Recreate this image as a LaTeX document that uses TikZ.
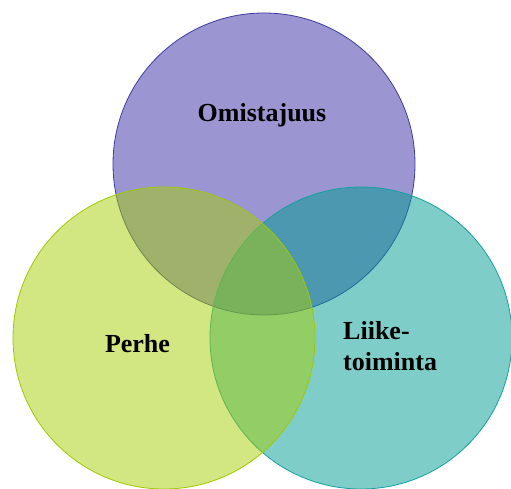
\documentclass[tikz,border=0pt]{standalone}
\usepackage{fontspec}
\setmainfont{Liberation Serif}
\usepackage{tikz}
\usetikzlibrary{positioning}

\definecolor{ownfill}{RGB}{55,45,165}
\definecolor{ownline}{RGB}{60,60,160}
\definecolor{famfill}{RGB}{165,205,5}
\definecolor{famline}{RGB}{160,200,0}
\definecolor{busfill}{RGB}{0,155,145}
\definecolor{busline}{RGB}{20,160,160}

\begin{document}
\begin{tikzpicture}
[
   x=1pt, y=-1pt,
   font=\fontsize{26}{31}\selectfont\bfseries
]

\tikzset{venn/.style = {shape=circle, minimum size=302pt, inner sep=0pt, line width=0.8pt, fill opacity=0.5, draw opacity=1}}
\tikzset{word/.style = {inner sep=0pt, text=black}}
\useasboundingbox (0,0) rectangle (511,489);
% circles
\node[venn, draw=ownline, fill=ownfill] (own) at (264,164) {};
\node[venn, draw=busline, fill=busfill] (bus) at (361,338) {};
\node[venn, draw=famline, fill=famfill] (fam) at (164,338) {};
% labels
\node[word, anchor=base] (ownlab) at (262,122) {Omistajuus};
\node[word, anchor=base] (famlab) at (137.5,352) {Perhe};
\node[word, anchor=north west, align=left] (buslab) at (343,321) {Liike-\\toiminta};

\end{tikzpicture}
\end{document}
